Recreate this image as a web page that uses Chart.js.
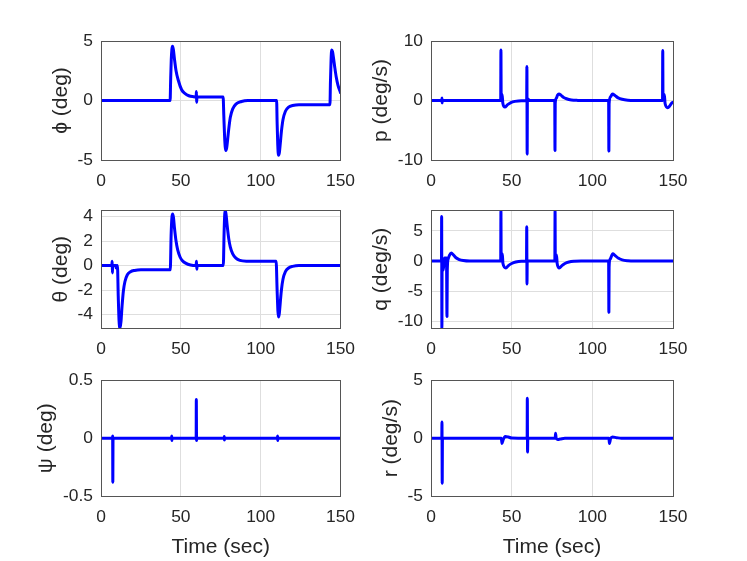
<!DOCTYPE html>
<html>
<head>
<title>Attitude response</title>
<script src="https://cdn.jsdelivr.net/npm/chart.js@4.4.1/dist/chart.umd.min.js"></script>
<style>
body { margin: 0; background-color: white; }
.panel { position: absolute; }
</style>
</head>
<body>

<div class="panel" id="box-phi"><canvas id="phi"></canvas></div>
<div class="panel" id="box-p"><canvas id="p"></canvas></div>
<div class="panel" id="box-theta"><canvas id="theta"></canvas></div>
<div class="panel" id="box-q"><canvas id="q"></canvas></div>
<div class="panel" id="box-psi"><canvas id="psi"></canvas></div>
<div class="panel" id="box-r"><canvas id="r"></canvas></div>

<script type="text/javascript">

// time ticks shared by all six plots
var X_TICKS = [0, 50, 100, 150];

// roll angle
var phiT = [0, 43.3, 43.6, 44.0, 44.4, 44.8, 45.3, 46.0, 47.0, 48.4, 50.5, 52.5, 55.0, 58.0, 59.6, 59.75, 59.9, 60.1, 76.5, 76.9, 77.4, 77.8, 78.2, 78.7, 79.3, 80.0, 81.0, 82.5, 84.5, 88.0, 92.0, 110.0, 110.3, 110.7, 111.2, 111.7, 112.3, 113.0, 114.0, 115.5, 117.5, 120.0, 124.0, 143.4, 143.7, 144.1, 144.5, 145.0, 145.6, 146.4, 147.3, 148.4, 150.0];
var phiV = [0, 0, 1.6, 3.4, 4.3, 4.55, 4.3, 3.5, 2.5, 1.7, 0.9, 0.6, 0.4, 0.32, 0.3, 0.75, -0.15, 0.3, 0.3, -1.2, -3.0, -3.9, -4.2, -4.0, -3.3, -2.4, -1.4, -0.7, -0.3, -0.08, 0, 0, -1.8, -3.7, -4.6, -4.4, -3.6, -2.6, -1.6, -0.9, -0.55, -0.42, -0.35, -0.35, 1.5, 3.4, 4.25, 4.1, 3.6, 2.8, 2.0, 1.3, 0.65];
var phiTicks = [-5, 0, 5];

// roll rate
var pT = [0, 6.7, 6.8, 6.9, 7.0, 43.2, 43.35, 43.5, 44.1, 44.5, 45.8, 47.5, 49.5, 52.0, 56.0, 59.3, 59.45, 59.6, 59.75, 60.3, 61.0, 76.7, 76.85, 77.0, 77.7, 78.4, 79.3, 80.5, 82.0, 84.0, 87.0, 91.0, 95.0, 110.1, 110.25, 110.4, 111.2, 112.5, 114.0, 116.0, 118.5, 122.0, 126.0, 143.5, 143.65, 143.8, 144.6, 145.1, 146.7, 148.0, 149.0, 150.0];
var pV = [0, 0, 0.4, -0.4, 0, 0, 8.5, 0.5, 1.0, -0.4, -1.1, -0.7, -0.35, -0.15, -0.03, 0, 5.7, -9.0, 0.3, 0.2, 0, 0, -8.4, -0.5, 0.4, 0.9, 1.1, 0.9, 0.55, 0.3, 0.1, 0.02, 0, 0, -8.5, -0.6, 0.6, 1.1, 0.85, 0.45, 0.2, 0.05, 0, 0, 8.4, 0.5, 1.0, -0.5, -1.2, -0.9, -0.5, -0.3];
var pTicks = [-10, 0, 10];

// pitch angle
var thetaT = [0, 6.8, 7.0, 7.15, 7.3, 9.2, 9.5, 9.8, 10.3, 10.8, 11.3, 11.9, 12.5, 13.2, 14.0, 15.0, 16.5, 18.5, 21.0, 25.0, 43.4, 43.9, 44.4, 44.9, 45.4, 46.0, 47.0, 48.0, 49.5, 51.0, 53.0, 56.0, 59.6, 59.8, 60.0, 60.2, 76.6, 77.1, 77.5, 77.9, 78.4, 79.0, 80.0, 81.0, 82.5, 84.5, 87.0, 91.0, 109.7, 110.3, 110.8, 111.2, 111.7, 112.3, 113.0, 114.0, 115.5, 117.5, 120.0, 124.0, 150.0];
var thetaV = [0, 0, 0.35, -0.6, 0, 0, -0.2, 0, 0, -2.5, -4.5, -5.1, -4.6, -3.3, -2.1, -1.3, -0.75, -0.5, -0.4, -0.35, -0.35, 2.4, 3.9, 4.2, 3.9, 3.1, 2.0, 1.3, 0.7, 0.4, 0.2, 0.05, 0, 0.35, -0.3, 0, 0, 2.7, 4.2, 4.5, 4.1, 3.3, 2.2, 1.5, 0.95, 0.6, 0.42, 0.36, 0.35, -2.0, -3.7, -4.2, -3.9, -3.0, -2.0, -1.1, -0.5, -0.2, -0.07, 0, 0];
var thetaTicks = [-4, -2, 0, 2, 4];

// pitch rate
var qT = [0, 6.5, 6.6, 6.75, 6.9, 7.6, 8.3, 9.6, 9.9, 10.1, 10.6, 11.5, 12.6, 13.8, 15.5, 17.5, 20.0, 24.0, 43.2, 43.35, 43.5, 44.2, 44.6, 46.4, 48.0, 50.0, 52.5, 56.0, 59.2, 59.35, 59.5, 59.65, 76.75, 76.9, 77.05, 77.8, 78.2, 79.5, 81.0, 83.0, 85.5, 89.0, 93.0, 110.1, 110.25, 110.4, 111.0, 112.7, 114.0, 116.0, 118.5, 122.0, 126.0, 150.0];
var qV = [0, 0, 7.4, -11.1, 0.6, -1.5, 0.5, 0.5, -9.2, -1.5, 0.3, 1.0, 1.35, 1.05, 0.55, 0.25, 0.08, 0, 0, 8.4, 0.3, 1.2, -0.4, -1.15, -0.75, -0.4, -0.15, -0.03, 0, 5.7, -3.8, 0, 0, 8.4, 0.3, 1.0, -0.4, -1.15, -0.8, -0.4, -0.15, -0.03, 0, 0, -8.5, -1.0, 0.3, 1.2, 0.95, 0.5, 0.2, 0.05, 0, 0];
var qTicks = [-10, -5, 0, 5];

// yaw angle
var psiT = [0, 7.2, 7.3, 7.4, 7.55, 44.2, 44.3, 44.4, 44.5, 59.6, 59.7, 59.85, 60.0, 77.1, 77.2, 77.3, 77.4, 110.5, 110.6, 110.7, 110.8, 150];
var psiV = [0, 0, 0.02, -0.38, 0, 0, 0.02, -0.02, 0, 0, 0.335, -0.02, 0, 0, 0.015, -0.015, 0, 0, 0.02, -0.02, 0, 0];
var psiTicks = [-0.5, 0, 0.5];

// yaw rate
var rT = [0, 6.7, 6.8, 6.95, 7.1, 43.6, 44.0, 44.8, 46.0, 48.0, 50.0, 59.6, 59.7, 59.85, 60.0, 77.0, 77.2, 77.6, 78.5, 80.0, 83.0, 110.3, 110.6, 111.3, 112.5, 115.0, 118.0, 150];
var rV = [0, 0, 1.4, -3.9, 0, 0, -0.45, -0.1, 0.15, 0.1, 0.02, 0, 3.45, -1.2, 0, 0, 0.42, 0, -0.1, -0.07, 0, 0, -0.45, -0.05, 0.1, 0.05, 0, 0];
var rTicks = [-5, 0, 5];

var FONT = "'Liberation Sans', Arial, Helvetica, sans-serif";
var TEXT = '#262626';
var GRID = '#dedede';
var FRAME = '#555555';
var TICK_SIZE = 17.4;
var LABEL_SIZE = 21;

// box = canvas [left, top, width, height], plot = axes [left, top, right, bottom], titleX = centre of y label
var panels = [
  {id: 'phi',   t: phiT,   v: phiV,   ticks: phiTicks,   min: -5,    max: 5,   label: 'ϕ (deg)',   box: [0, 0, 366, 192],     plot: [101, 41, 345, 160],  titleX: 61.5},
  {id: 'p',     t: pT,     v: pV,     ticks: pTicks,     min: -10,   max: 10,  label: 'p (deg/s)', box: [366, 0, 381, 192],   plot: [431, 41, 673, 160],  titleX: 381},
  {id: 'theta', t: thetaT, v: thetaV, ticks: thetaTicks, min: -5.1,  max: 4.5, label: 'θ (deg)',   box: [0, 192, 366, 170],   plot: [101, 209, 345, 328], titleX: 61.5},
  {id: 'q',     t: qT,     v: qV,     ticks: qTicks,     min: -11.1, max: 8.4, label: 'q (deg/s)', box: [366, 192, 381, 170], plot: [431, 209, 673, 328], titleX: 381},
  {id: 'psi',   t: psiT,   v: psiV,   ticks: psiTicks,   min: -0.5,  max: 0.5, label: 'ψ (deg)',   box: [0, 362, 366, 199],   plot: [101, 378, 345, 496], titleX: 46,  xTitle: true},
  {id: 'r',     t: rT,     v: rV,     ticks: rTicks,     min: -5,    max: 5,   label: 'r (deg/s)', box: [366, 362, 381, 199], plot: [431, 378, 673, 496], titleX: 391, xTitle: true}
];

// MATLAB style closed box round the axes
var framePlugin = {
  id: 'frame',
  afterDraw: function (chart) {
    var a = chart.chartArea, c = chart.ctx;
    c.save();
    c.strokeStyle = FRAME;
    c.lineWidth = 1;
    var l = Math.round(a.left) + 0.5, t = Math.round(a.top) + 0.5;
    var w = Math.round(a.right) - Math.round(a.left), h = Math.round(a.bottom) - Math.round(a.top);
    c.strokeRect(l, t, w, h);
    c.restore();
  }
};

function createChart(p) {
  var div = document.getElementById('box-' + p.id);
  var bx = p.box[0], by = p.box[1], bw = p.box[2], bh = p.box[3];
  div.style.left = bx + 'px';
  div.style.top = by + 'px';
  div.style.width = bw + 'px';
  div.style.height = bh + 'px';

  var yLeft = p.titleX - LABEL_SIZE * 1.2 / 2;
  var points = p.t.map(function (x, i) { return {x: x, y: p.v[i]}; });

  new Chart(document.getElementById(p.id), {
    type: 'line',
    data: {
      datasets: [{
        data: points,
        borderColor: '#0000ff',
        borderWidth: 3,
        pointRadius: 0,
        fill: false,
        cubicInterpolationMode: 'monotone',
        borderJoinStyle: 'round',
        borderCapStyle: 'round'
      }]
    },
    options: {
      responsive: true,
      maintainAspectRatio: false,
      animation: false,
      events: [],
      layout: {
        padding: {left: yLeft - bx, top: p.plot[1] - by, right: bx + bw - p.plot[2], bottom: 0}
      },
      plugins: {
        legend: {display: false},
        tooltip: {enabled: false}
      },
      scales: {
        x: {
          type: 'linear',
          min: 0,
          max: 150,
          afterBuildTicks: function (s) { s.ticks = X_TICKS.map(function (v) { return {value: v}; }); },
          afterFit: function (s) { s.height = by + bh - p.plot[3]; },
          grid: {color: GRID, drawTicks: false},
          border: {display: false},
          ticks: {padding: 11, color: TEXT, font: {family: FONT, size: TICK_SIZE}, maxRotation: 0, autoSkip: false},
          title: {display: !!p.xTitle, text: 'Time (sec)', color: TEXT, font: {family: FONT, size: LABEL_SIZE}, padding: {top: 0, bottom: 1}}
        },
        y: {
          type: 'linear',
          min: p.min,
          max: p.max,
          afterBuildTicks: function (s) { s.ticks = p.ticks.map(function (v) { return {value: v}; }); },
          afterFit: function (s) { s.width = p.plot[0] - yLeft; },
          grid: {color: GRID, drawTicks: false},
          border: {display: false},
          ticks: {
            padding: 8, color: TEXT, font: {family: FONT, size: TICK_SIZE}, autoSkip: false,
            callback: function (v) { return String(v); }
          },
          title: {display: true, text: p.label, color: TEXT, font: {family: FONT, size: LABEL_SIZE}, padding: 0}
        }
      }
    },
    plugins: [framePlugin]
  });
}

panels.forEach(createChart);

</script>
</body>
</html>
